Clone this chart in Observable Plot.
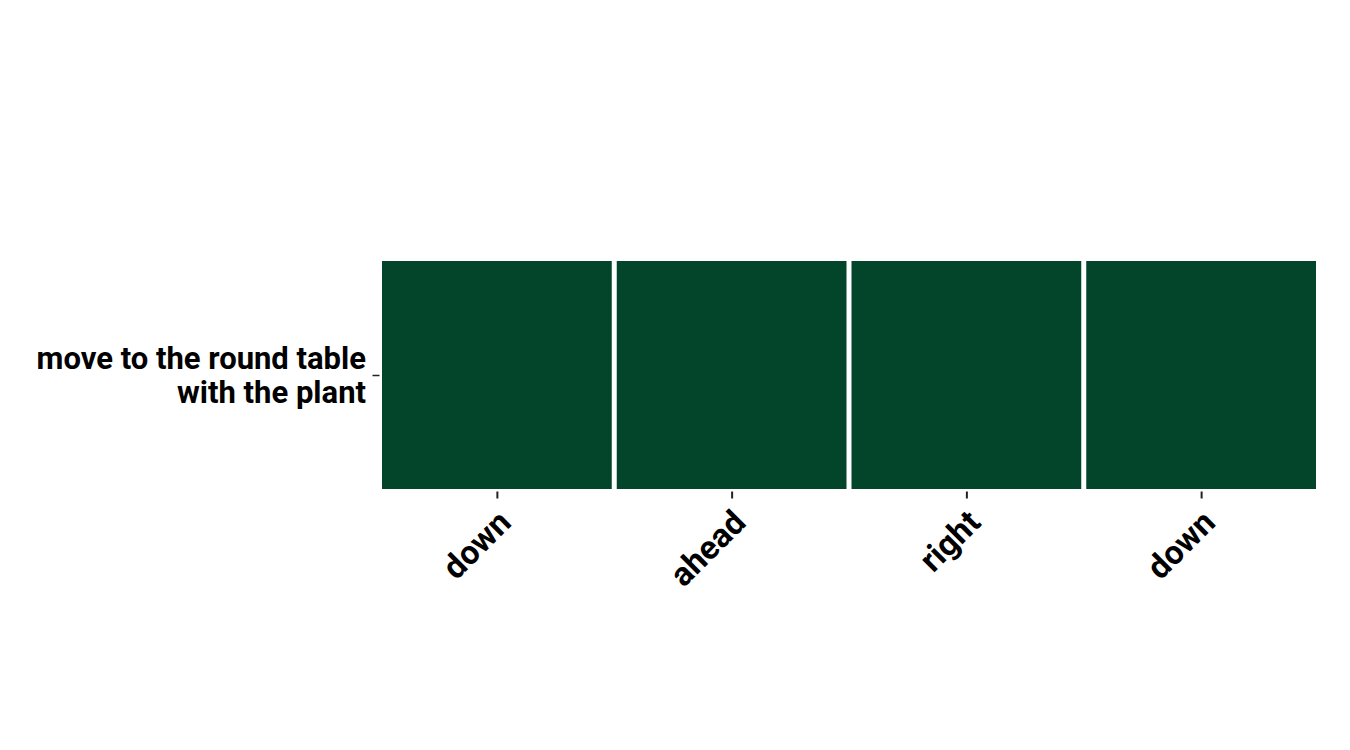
<!DOCTYPE html>
<html>
<head>
<meta charset="utf-8">
<script src="https://cdn.jsdelivr.net/npm/d3@7"></script>
<script src="https://cdn.jsdelivr.net/npm/@observablehq/plot@0.6"></script>
<style>
  html, body { margin: 0; padding: 0; background: #fff; }
  #chart { width: 1350px; height: 750px; }
</style>
</head>
<body>
<div id="chart"></div>
<script>
const rows = ["move to the round table\nwith the plant"];
const steps = ["down", "ahead", "right", "down"];
const values = [1, 1, 1, 1];

const data = steps.map((s, i) => ({row: rows[0], col: i, label: s, value: values[i]}));

const chart = Plot.plot({
  width: 1350,
  height: 750,
  marginLeft: 379.5,
  marginRight: 31.5,
  marginTop: 258.5,
  marginBottom: 258.5,
  style: {fontFamily: "Roboto, sans-serif", fontSize: "31px", fontWeight: "bold", color: "#000", background: "#fff"},
  x: {domain: steps.map((_, i) => i), padding: 0, round: false, label: null},
  y: {domain: rows, padding: 0, round: false, label: null},
  color: {type: "ordinal", domain: [1], range: ["#03452b"]},
  marks: [
    Plot.cell(data, {x: "col", y: "row", fill: "value", inset: 2.5}),
    Plot.axisX({tickFormat: () => "", tickSize: 7, stroke: "#222", strokeWidth: 2, label: null}),
    Plot.axisX({tickFormat: i => steps[i], tickRotate: -45, tickSize: 0, tickPadding: 13, dx: 8, dy: 12, fontSize: 33, fontWeight: "bold", fill: "#000", label: null}),
    Plot.axisY({tickSize: 7, tickPadding: 7, fontSize: 31, fontWeight: "bold", lineHeight: 1.1, stroke: "#222", strokeWidth: 1.5, fill: "#000", label: null})
  ]
});
document.getElementById("chart").appendChild(chart);
</script>
</body>
</html>
